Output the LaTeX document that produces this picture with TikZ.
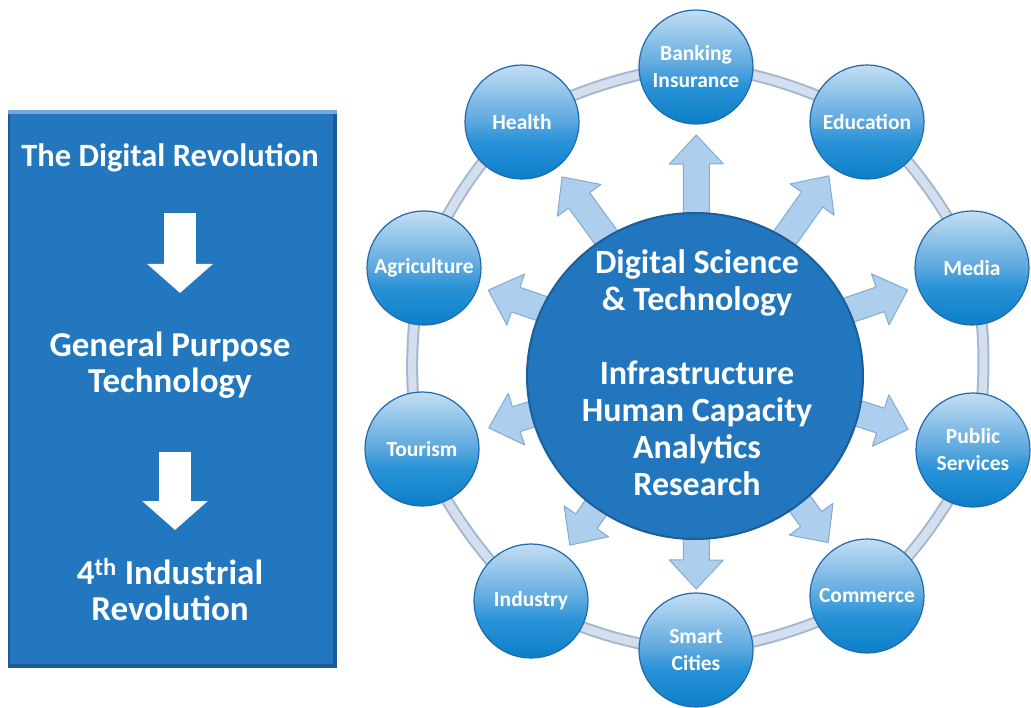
\documentclass[tikz,border=0pt]{standalone}
\usepackage{fontspec}
\setmainfont{Carlito}
\usetikzlibrary{calc,backgrounds,shapes.geometric,arrows.meta}

\definecolor{boxblue}{HTML}{2277BF}
\definecolor{boxdark}{HTML}{1A5B98}
\definecolor{boxlight}{HTML}{78A7D8}
\definecolor{hubblue}{HTML}{2176BE}
\definecolor{hubrim}{HTML}{1A5E9C}
\definecolor{ringdark}{HTML}{A3B8D0}
\definecolor{ringlight}{HTML}{D3DFEC}
\definecolor{arrowfill}{HTML}{ADCEEC}
\definecolor{arrowedge}{HTML}{82ABD4}
\definecolor{ballrim}{HTML}{1F69AD}
\definecolor{balltop}{HTML}{C3DEF3}
\definecolor{ballmid}{HTML}{5AA7DE}
\definecolor{ballmidb}{HTML}{2A93D7}
\definecolor{ballbot}{HTML}{0B7FC8}

\pgfdeclareverticalshading{ballshade}{100bp}{color(0bp)=(ballbot); color(25bp)=(ballbot);
  color(42bp)=(ballmidb); color(50bp)=(ballmid); color(75bp)=(balltop); color(100bp)=(balltop)}

\tikzset{
  ball/.style={circle, minimum size=114pt, inner sep=0pt, shading=ballshade,
    draw=ballrim, line width=1.2pt, text=white, align=center,
    font=\bfseries\fontsize{21.5}{27}\selectfont},
  hub/.style={ellipse, minimum width=336pt, minimum height=326pt, inner sep=0pt,
    fill=hubblue, draw=hubrim, line width=2pt},
  boxtext/.style={text=white, align=center, font=\bfseries\fontsize{35}{36}\selectfont},
  downarrow/.style={white, line width=32pt, -{Triangle[length=29pt,width=64pt]}},
  ringline/.style={line width=#1, line cap=round}
}

\begin{document}
\begin{tikzpicture}[x=1pt,y=-1pt]
\useasboundingbox (0,0) rectangle (1031,708);

% left panel
\fill[boxdark] (8,110) rectangle (337,668);
\fill[boxblue] (10,113) rectangle (333,664);
\fill[boxlight] (8,110) rectangle (337,114);
\node[boxtext, font=\bfseries\fontsize{32.5}{36}\selectfont] (title) at (170,158) {The Digital Revolution};
\node[boxtext] (gpt) at (170,365) {General Purpose\\Technology};
\node[boxtext] (ir) at (170,590) {4\textsuperscript{th} Industrial\\Revolution};
\coordinate (a1s) at (180,213);
\coordinate (a1e) at (180,293);
\coordinate (a2s) at (175,452);
\coordinate (a2e) at (175,530);
\draw[downarrow] (a1s) -- (a1e);
\draw[downarrow] (a2s) -- (a2e);

% sectors
\node[ball] (bank) at (696,67) {Banking\\Insurance};
\node[ball] (edu) at (867,122) {Education};
\node[ball] (media) at (972,268) {Media};
\node[ball] (pub) at (973,450) {Public\\Services};
\node[ball] (comm) at (867,596) {Commerce};
\node[ball] (smart) at (696,650) {Smart\\Cities};
\node[ball] (ind) at (531,601) {Industry};
\node[ball] (tour) at (422,449) {Tourism};
\node[ball] (agri) at (424,268) {Agriculture};
\node[ball] (health) at (522,122) {Health};

% hub
\coordinate (o) at (697,362);
\node[hub] (hub) at (695,376) {};
\node[text=white, align=center, font=\bfseries\fontsize{34}{37}\selectfont] (hubtext) at (697,373)
  {Digital Science\\\& Technology\\[37pt]Infrastructure\\Human Capacity\\Analytics\\Research};

\begin{scope}[on background layer]
\draw[ringline=12pt, ringdark] plot[smooth cycle] coordinates {(bank.center) (edu.center) (media.center)
  (pub.center) (comm.center) (smart.center) (ind.center) (tour.center) (agri.center) (health.center)};
\draw[ringline=8pt, ringlight] plot[smooth cycle] coordinates {(bank.center) (edu.center) (media.center)
  (pub.center) (comm.center) (smart.center) (ind.center) (tour.center) (agri.center) (health.center)};
\foreach \n/\g in {bank/68pt,edu/66pt,media/68pt,pub/68pt,comm/66pt,smart/61pt,ind/68pt,tour/70pt,agri/68pt,health/68pt}{
  \coordinate (t) at ($(\n.center)!\g!(o)$);
  \coordinate (h) at ($(t)!29pt!(o)$);
  \filldraw[fill=arrowfill, draw=arrowedge, line width=1pt, line join=round]
    ($(o)!13pt!90:(t)$) -- ($(h)!13pt!90:(t)$) -- ($(h)!27pt!90:(t)$) -- (t)
    -- ($(h)!27pt!-90:(t)$) -- ($(h)!13pt!-90:(t)$) -- ($(o)!13pt!-90:(t)$) -- cycle;
}
\end{scope}

\end{tikzpicture}
\end{document}
